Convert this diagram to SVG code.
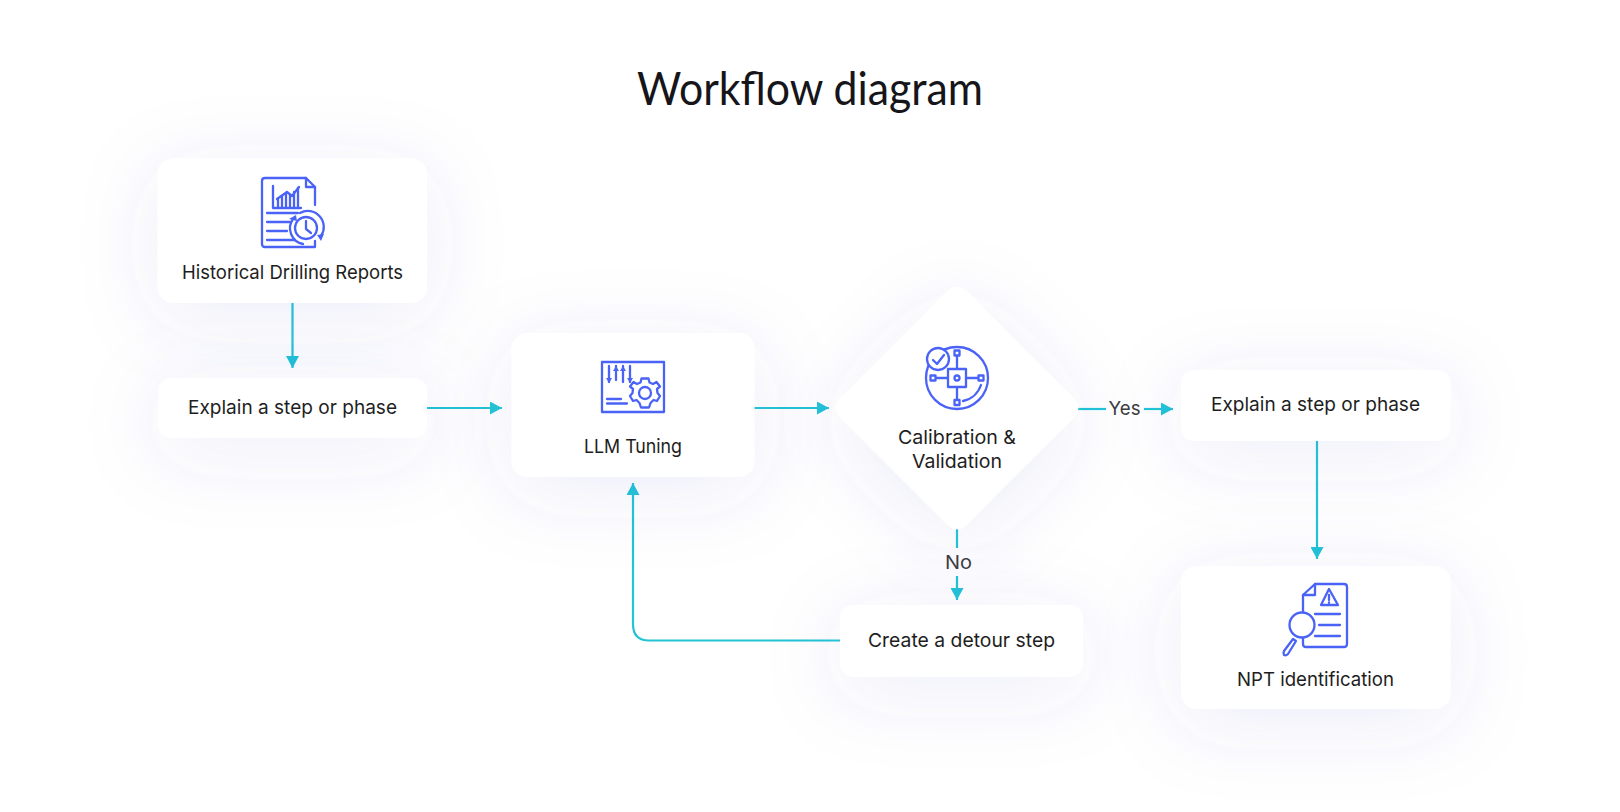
<svg xmlns="http://www.w3.org/2000/svg" width="1620" height="812" viewBox="0 0 1620 812">
<defs>
<style>
.card{fill:#fff;filter:url(#sh)}
.t{font-family:"Inter","Liberation Sans",sans-serif;font-size:19px;fill:#1e1e22}
.title{font-family:"Lato","Liberation Sans",sans-serif;font-size:46px;fill:#16161a}
.lab{font-family:"Inter","Liberation Sans",sans-serif;font-size:19px;fill:#3c3c42}
.c{fill:none;stroke:#22c4d6;stroke-width:2.200}
.i{fill:none;stroke:#4a63f6;stroke-width:2.300;stroke-linecap:round;stroke-linejoin:round}
.iw{fill:#fff;stroke:#4a63f6;stroke-width:2.300;stroke-linecap:round;stroke-linejoin:round}
.if{fill:#4a63f6}
</style>
<filter id="sh" x="-100%" y="-150%" width="300%" height="400%">
<feDropShadow dx="0" dy="14" stdDeviation="40" flood-color="#5050c8" flood-opacity="0.10"/>
</filter>
<marker id="ah" markerUnits="userSpaceOnUse" markerWidth="13" markerHeight="13" refX="12" refY="6.500" orient="auto">
<path d="M0 0L12 6.500L0 13Z" fill="#22c4d6"/>
</marker>
</defs>
<rect width="1620" height="812" fill="#fff"/>
<text id="title" class="title" x="637" y="104.500" textLength="346" lengthAdjust="spacingAndGlyphs">Workflow diagram</text>
<g id="connectors">
<path class="c" d="M292.500 303V368" marker-end="url(#ah)"/>
<path class="c" d="M427 408H502" marker-end="url(#ah)"/>
<path class="c" d="M754 408H829" marker-end="url(#ah)"/>
<path class="c" d="M1078 409H1106"/>
<path class="c" d="M1144 409H1173" marker-end="url(#ah)"/>
<path class="c" d="M1317 441V559" marker-end="url(#ah)"/>
<path class="c" d="M957 528V548"/>
<path class="c" d="M957 576V600" marker-end="url(#ah)"/>
<path class="c" d="M840 640.500H649Q633 640.500 633 624V483" marker-end="url(#ah)"/>
</g>
<g id="node-reports">
<rect class="card" x="157.500" y="158.500" width="269.500" height="144.500" rx="16"/>
<path class="i" d="M315 205V187L306 178H265Q262 178 262 181V244Q262 247 265 247H315V241"/>
<path class="i" d="M306 178V187H315"/>
<path class="i" d="M273 186V208H301"/>
<path class="i" d="M277 199L287 192L292 196L299 187"/>
<path class="i" d="M278 207V199M282 207V196M286 207V193M290 207V195M294 207V192M298 207V188" stroke-width="1.500"/>
<path class="i" d="M267 213H298M267 222H290M267 231H287M267 240H295"/>
<path class="i" d="M300 213A16 16 0 0 1 321 236"/>
<path class="i" d="M293 219A16 16 0 0 0 303 244"/>
<circle class="iw" cx="306" cy="228" r="11"/>
<path class="i" d="M306 221V229L311 233"/>
<path class="if" d="M289 219L296 215L297 221ZM317 235L324 234L321 241Z"/>
<text class="t" x="182" y="279" textLength="221" lengthAdjust="spacingAndGlyphs">Historical Drilling Reports</text>
</g>
<g id="node-explain-1">
<rect class="card" x="158" y="378" width="269" height="60" rx="14"/>
<text class="t" x="188" y="414" textLength="209" lengthAdjust="spacingAndGlyphs">Explain a step or phase</text>
</g>
<g id="node-llm">
<rect class="card" x="511.500" y="333" width="243" height="144" rx="16"/>
<rect class="i" x="602" y="362" width="62" height="50"/>
<path class="i" d="M609 366V382M616 366V380M623 366V382M630 366V382"/>
<path class="if" d="M606 378H612L609 383ZM613 371H619L616 366ZM620 371H626L623 366ZM627 378H633L630 383Z"/>
<path class="i" d="M607 399H621M607 403.500H627"/>
<g transform="translate(645 393)">
<path class="iw" d="M-3.500-14.500H3.500L4.500-10.500L8-9L11.500-11L15-6.500L12-4L12.500 0L15 3L12 8L8.500 7L5.500 10L4 14.500H-4L-5.500 10L-8.500 7L-12 8L-15 3L-12.500 0L-12-4L-15-6.500L-11.500-11L-8-9L-4.500-10.500Z"/>
<circle class="i" r="6"/>
</g>
<text class="t" x="584" y="453" textLength="98" lengthAdjust="spacingAndGlyphs">LLM Tuning</text>
</g>
<g id="node-calibration">
<path class="card" d="M947.100 291.600Q957 281.700 966.900 291.600L1073.400 398.100Q1083.300 408 1073.400 417.900L966.900 524.400Q957 534.300 947.100 524.400L840.600 417.900Q830.700 408 840.600 398.100Z"/>
<circle class="i" cx="957" cy="378" r="31"/>
<path class="i" d="M957 355V369M957 387V400M935 378H948M966 378H979"/>
<path class="i" d="M963 401A24 24 0 0 0 981 385"/>
<rect class="iw" x="948" y="369" width="18" height="18"/>
<circle class="i" cx="957" cy="378" r="2.500"/>
<rect class="iw" x="954.500" y="350.500" width="5" height="5"/>
<rect class="iw" x="954.500" y="400" width="5" height="5"/>
<rect class="iw" x="930.500" y="375.500" width="5" height="5"/>
<rect class="iw" x="978.500" y="375.500" width="5" height="5"/>
<circle class="iw" cx="938" cy="359" r="11"/>
<path class="i" d="M933 360L937 364L944 355"/>
<text class="t" x="898" y="444" textLength="118" lengthAdjust="spacingAndGlyphs">Calibration &amp;</text>
<text class="t" x="912" y="468" textLength="90" lengthAdjust="spacingAndGlyphs">Validation</text>
</g>
<g id="node-explain-2">
<rect class="card" x="1181" y="370" width="269.500" height="71" rx="14"/>
<text class="t" x="1211" y="411" textLength="209" lengthAdjust="spacingAndGlyphs">Explain a step or phase</text>
</g>
<g id="node-detour">
<rect class="card" x="840" y="605" width="243" height="72" rx="14"/>
<text class="t" x="868" y="647" textLength="187" lengthAdjust="spacingAndGlyphs">Create a detour step</text>
</g>
<g id="node-npt">
<rect class="card" x="1181" y="566" width="269.500" height="143" rx="16"/>
<path class="i" d="M1303 613V595L1315 584H1344Q1347 584 1347 587V644Q1347 647 1344 647H1306Q1303 647 1303 644V637"/>
<path class="i" d="M1303 595H1315V584"/>
<path class="i" d="M1329 589L1338 605H1321Z"/>
<path class="i" d="M1329 595V600M1329 602.500V603"/>
<path class="i" d="M1315 614H1340M1319 625H1340M1315 636H1340"/>
<circle class="iw" cx="1302" cy="625" r="12.500"/>
<path class="iw" d="M1293 639L1296 641L1288 654Q1286 656 1284 655Q1283 653 1284 651Z"/>
<text class="t" x="1237" y="686" textLength="157" lengthAdjust="spacingAndGlyphs">NPT identification</text>
</g>
<g id="edge-labels">
<text class="lab" x="1108.500" y="415" textLength="32" lengthAdjust="spacingAndGlyphs">Yes</text>
<text class="lab" x="945" y="568.500" textLength="27" lengthAdjust="spacingAndGlyphs">No</text>
</g>
</svg>
